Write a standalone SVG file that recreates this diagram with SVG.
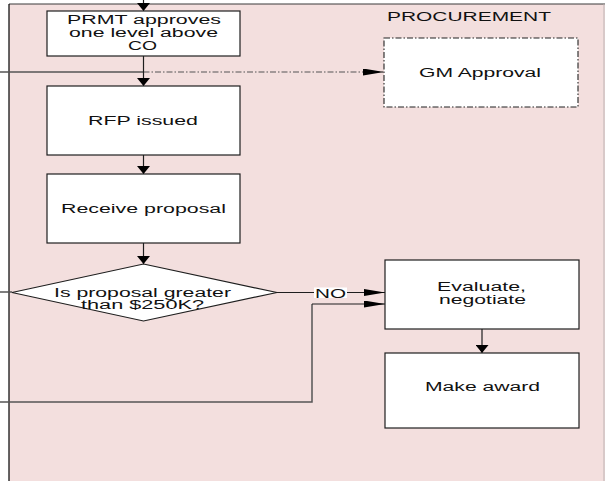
<svg xmlns="http://www.w3.org/2000/svg" width="605" height="481" viewBox="0 0 605 481">
  <style>
    .box { fill: #ffffff; stroke: #1e1e1e; stroke-width: 1.2; }
    .dash { fill: #ffffff; stroke: #222222; stroke-width: 1.1; stroke-dasharray: 6 2 1.5 2; }
    .t { font-family: "Liberation Sans", Arial, sans-serif; font-size: 12.5px; fill: #111111; text-anchor: middle; }
    .ln { fill: none; stroke: #1e1e1e; stroke-width: 1.2; }
    .ext { fill: none; stroke: #555555; stroke-width: 1.5; }
    .dd { fill: none; stroke: #555555; stroke-width: 1.2; stroke-dasharray: 6 2 1.5 2; }
  </style>
  <defs>
    <marker id="ahV" markerUnits="userSpaceOnUse" markerWidth="8" markerHeight="13" refX="8" refY="6.5" orient="auto">
      <path d="M0,0 L8,6.5 L0,13 z" fill="#000000"/>
    </marker>
    <marker id="ahH" markerUnits="userSpaceOnUse" markerWidth="21" markerHeight="7" refX="21" refY="3.5" orient="auto">
      <path d="M0,0 L21,3.5 L0,7 z" fill="#000000"/>
    </marker>
  </defs>

  <g id="lane">
    <rect x="9" y="4" width="596" height="480" fill="#f3dfde"/>
    <line x1="9" y1="4" x2="605" y2="4" stroke="#3a3a3a" stroke-width="1.2"/>
    <line x1="9" y1="4" x2="9" y2="481" stroke="#000000" stroke-width="1.2"/>
    <line x1="604" y1="4" x2="604" y2="481" stroke="#bdb3b3" stroke-width="1"/>
    <text class="t" x="469" y="20.5" textLength="164" lengthAdjust="spacingAndGlyphs">PROCUREMENT</text>
  </g>

  <g id="connectors">
    <line class="ln" x1="143.5" y1="0" x2="143.5" y2="11" marker-end="url(#ahV)"/>
    <line class="ext" x1="0" y1="72" x2="143.5" y2="72"/>
    <line class="dd" x1="143.5" y1="72" x2="384" y2="72" marker-end="url(#ahH)"/>
    <line class="ln" x1="143.5" y1="56" x2="143.5" y2="86" marker-end="url(#ahV)"/>
    <line class="ln" x1="143.5" y1="155" x2="143.5" y2="174" marker-end="url(#ahV)"/>
    <line class="ln" x1="143.5" y1="243" x2="143.5" y2="264" marker-end="url(#ahV)"/>
    <line class="ext" x1="0" y1="292" x2="12" y2="292"/>
    <line class="ln" x1="277" y1="292.5" x2="385" y2="292.5" marker-end="url(#ahH)"/>
    <polyline class="ext" points="0,402 312,402 312,304"/>
    <line class="ln" x1="312" y1="304" x2="385" y2="304" marker-end="url(#ahH)"/>
    <line class="ln" x1="482" y1="329" x2="482" y2="353" marker-end="url(#ahV)"/>
    <rect x="314" y="287.5" width="33" height="10.5" fill="#ffffff"/>
    <text class="t" x="330.5" y="297.5" textLength="31" lengthAdjust="spacingAndGlyphs">NO</text>
  </g>

  <g id="prmt">
    <rect class="box" x="47" y="11" width="193" height="45"/>
    <text class="t" x="144" y="23.5" textLength="154" lengthAdjust="spacingAndGlyphs">PRMT approves</text>
    <text class="t" x="143.5" y="36.5" textLength="149" lengthAdjust="spacingAndGlyphs">one level above</text>
    <text class="t" x="142.5" y="49.5" textLength="29" lengthAdjust="spacingAndGlyphs">CO</text>
  </g>

  <g id="gm-approval">
    <rect class="dash" x="384" y="38" width="194" height="69"/>
    <text class="t" x="480" y="77" textLength="122" lengthAdjust="spacingAndGlyphs">GM Approval</text>
  </g>

  <g id="rfp">
    <rect class="box" x="47" y="86" width="193" height="69"/>
    <text class="t" x="143" y="125" textLength="110" lengthAdjust="spacingAndGlyphs">RFP issued</text>
  </g>

  <g id="receive">
    <rect class="box" x="47" y="174" width="193" height="69"/>
    <text class="t" x="143.5" y="213" textLength="165" lengthAdjust="spacingAndGlyphs">Receive proposal</text>
  </g>

  <g id="decision">
    <polygon class="box" points="143.5,264 277,292.5 143.5,321 12,292.5"/>
    <text class="t" x="142.5" y="296.5" textLength="177" lengthAdjust="spacingAndGlyphs">Is proposal greater</text>
    <text class="t" x="142.5" y="309" textLength="123" lengthAdjust="spacingAndGlyphs">than $250K?</text>
  </g>

  <g id="evaluate">
    <rect class="box" x="385" y="260" width="194" height="69"/>
    <text class="t" x="481.5" y="290.5" textLength="89" lengthAdjust="spacingAndGlyphs">Evaluate,</text>
    <text class="t" x="482.5" y="303.5" textLength="87" lengthAdjust="spacingAndGlyphs">negotiate</text>
  </g>

  <g id="award">
    <rect class="box" x="385" y="353" width="194" height="75"/>
    <text class="t" x="482.5" y="390.5" textLength="115" lengthAdjust="spacingAndGlyphs">Make award</text>
  </g>
</svg>
